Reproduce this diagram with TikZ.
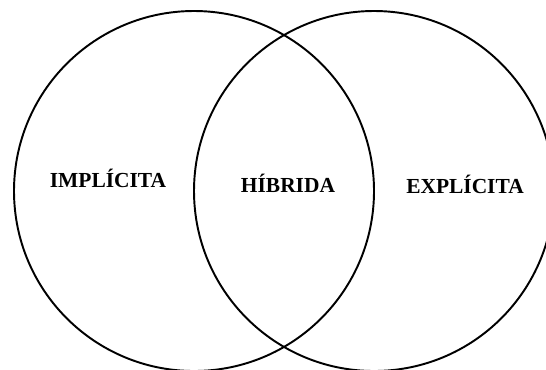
\documentclass[tikz,border=0pt]{standalone}
\usepackage{fontspec}
\setmainfont{Liberation Serif}
\usetikzlibrary{positioning}
\tikzset{
  set/.style={draw, line width=1.1pt},
  label text/.style={font=\bfseries\fontsize{12.2}{14}\selectfont, anchor=base}
}
\begin{document}
\begin{tikzpicture}[x=0.02cm, y=-0.02cm]
   \useasboundingbox (0,0) rectangle (546,369);
   \clip (0,0) rectangle (546,369);
   \coordinate (cl) at (194,191);
   \coordinate (cr) at (374,191);
   \draw[set] (cl) circle [radius=180];
   \draw[set] (cr) circle [radius=180];
   \node[label text] (impl) at (108,187) {IMPLÍCITA};
   \node[label text] (hib) at (288,192) {HÍBRIDA};
   \node[label text] (expl) at (465,193) {EXPLÍCITA};
\end{tikzpicture}
\end{document}
